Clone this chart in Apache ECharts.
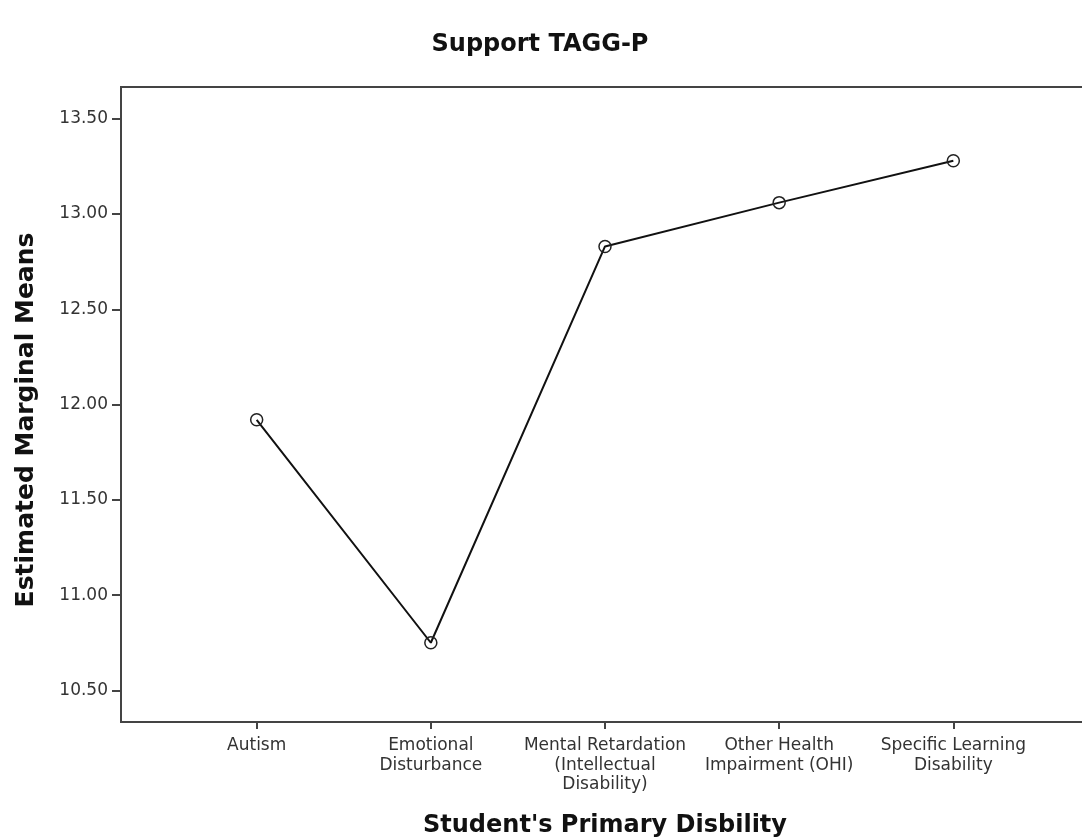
<!DOCTYPE html>
<html>
<head>
<meta charset="utf-8">
<script src="https://cdn.jsdelivr.net/npm/echarts@6/dist/echarts.min.js"></script>
<style>
html,body{margin:0;padding:0;background:#fff;}
#chart{width:1082px;height:840px;}
</style>
</head>
<body>
<div id="chart"></div>
<script>
var categories = ['Autism', 'Emotional\nDisturbance', 'Mental Retardation\n(Intellectual\nDisability)', 'Other Health\nImpairment (OHI)', 'Specific Learning\nDisability'];
var means = [11.92, 10.75, 12.83, 13.06, 13.28];
var yTicks = [10.5, 11.0, 11.5, 12.0, 12.5, 13.0, 13.5];
var xTicks = [0, 1, 2, 3, 4];

var FONT = 'DejaVu Sans';
var chart = echarts.init(document.getElementById('chart'));
var seriesData = means.map(function (v, i) { return [i, v]; });

chart.setOption({
  backgroundColor: '#ffffff',
  animation: false,
  title: {
    text: 'Support TAGG-P',
    left: 535, top: 28, textAlign: 'center',
    textStyle: { fontFamily: FONT, fontWeight: 'bold', fontSize: 24, color: '#111' }
  },
  grid: {
    left: 121, top: 87, width: 968, height: 635,
    outerBoundsMode: 'none', containLabel: false,
    show: true, borderColor: '#444', borderWidth: 2, backgroundColor: 'transparent'
  },
  xAxis: {
    type: 'value',
    min: -0.779, max: 4.779,
    name: "Student's Primary Disbility",
    nameLocation: 'middle', nameGap: 92,
    nameTextStyle: { fontFamily: FONT, fontWeight: 'bold', fontSize: 24, color: '#111' },
    splitLine: { show: false },
    axisLine: { show: true, onZero: false, lineStyle: { color: '#444', width: 2 } },
    axisTick: { show: true, inside: false, length: 7, lineStyle: { color: '#444', width: 2 }, customValues: xTicks },
    axisLabel: {
      customValues: xTicks,
      formatter: function (v) { return categories[Math.round(v)]; },
      fontFamily: FONT, fontSize: 17, color: '#333', lineHeight: 19.5, margin: 14, align: 'center'
    }
  },
  yAxis: {
    type: 'value',
    min: 10.334, max: 13.667,
    splitLine: { show: false },
    axisLine: { show: true, onZero: false, lineStyle: { color: '#444', width: 2 } },
    axisTick: { show: true, length: 9, lineStyle: { color: '#444', width: 2 }, customValues: yTicks },
    axisLabel: {
      customValues: yTicks,
      formatter: function (v) { return v.toFixed(2); },
      fontFamily: FONT, fontSize: 17, color: '#333', margin: 13
    }
  },
  graphic: [{
    type: 'text',
    x: 26, y: 420,
    rotation: Math.PI / 2,
    style: { text: 'Estimated Marginal Means', font: 'bold 25px "DejaVu Sans"', fill: '#111', textAlign: 'center', textVerticalAlign: 'middle' }
  }],
  series: [{
    type: 'line',
    data: seriesData,
    symbol: 'circle', symbolSize: 12,
    lineStyle: { color: '#111', width: 2 },
    itemStyle: { color: 'rgba(255,255,255,0)', borderColor: '#222', borderWidth: 1.5 }
  }]
});
</script>
</body>
</html>
